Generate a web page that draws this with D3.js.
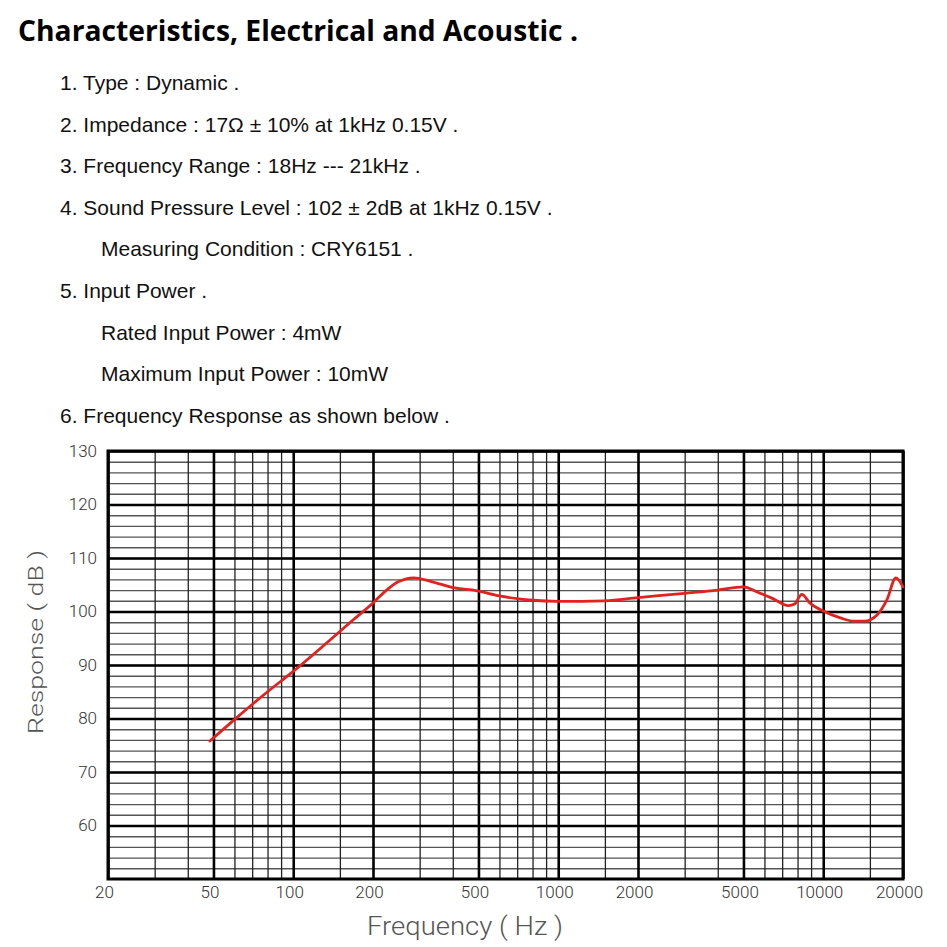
<!DOCTYPE html>
<html>
<head>
<meta charset="utf-8">
<script src="https://cdn.jsdelivr.net/npm/d3@7"></script>
<style>
	html, body { margin: 0; padding: 0; background: #fff; }
	svg { display: block; }
</style>
</head>
<body>
<div id="chart"></div>
<script>
// ---- data ----
var titleText = 'Characteristics, Electrical and Acoustic .';

var specLines = [
	'1. Type : Dynamic .',
	'2. Impedance : 17\u03A9 \u00B1 10% at 1kHz 0.15V .',
	'3. Frequency Range : 18Hz --- 21kHz .',
	'4. Sound Pressure Level : 102 \u00B1 2dB at 1kHz 0.15V .',
	'Measuring Condition : CRY6151 .',
	'5. Input Power .',
	'Rated Input Power : 4mW',
	'Maximum Input Power : 10mW',
	'6. Frequency Response as shown below .'
];
var specLevel = [0, 0, 0, 0, 1, 0, 1, 1, 0]; // 1 = sub item

var freqLabels = [20, 50, 100, 200, 500, 1000, 2000, 5000, 10000, 20000];
var freqMinor = [30, 40, 60, 70, 80, 90, 150, 300, 400, 600, 700, 800, 900, 1500,
	3000, 4000, 6000, 7000, 8000, 9000, 15000];
var dbLabels = [60, 70, 80, 90, 100, 110, 120, 130];

var responseFreq = [48.5, 60, 80, 100, 130, 168, 200, 225, 250, 285, 332, 406, 490, 600, 700, 800,
	1000, 1500, 2000, 3000, 4000, 5000, 5600, 6400, 7400, 7800, 8300, 8900, 10000, 11600,
	13000, 14300, 16000, 17400, 18800, 20000];
var responseDb = [75.8, 79.8, 85.0, 88.8, 93.6, 98.4, 101.6, 104.0, 105.6, 106.3, 105.6, 104.4, 103.9, 102.9, 102.4, 102.1,
	101.9, 102.0, 102.6, 103.4, 104.0, 104.6, 103.7, 102.5, 101.1, 101.4, 103.2, 101.6, 100.1, 98.8,
	98.2, 98.2, 99.4, 102.2, 106.3, 104.6];

function Chart() {
	var attrs = {
		svgWidth: 947,
		svgHeight: 947,
		plotLeft: 108,
		plotRight: 903,
		plotTop: 451,
		plotBottom: 879,
		textFont: '"Liberation Sans", Arial, sans-serif',
		titleFont: '"Open Sans", "Noto Sans", sans-serif',
		axisFont: 'Roboto, "DejaVu Sans", sans-serif',
		curveColor: '#e3211f',
		container: '#chart'
	};

	var main = function () {
		var container = d3.select(attrs.container);

		var svg = container.append('svg')
			.attr('width', attrs.svgWidth)
			.attr('height', attrs.svgHeight)
			.style('background', '#fff');

		// Header
		svg.append('text')
			.attr('x', 18)
			.attr('y', 41)
			.attr('font-family', attrs.titleFont)
			.attr('font-weight', 700)
			.attr('font-size', 28)
			.attr('textLength', 560)
			.attr('lengthAdjust', 'spacingAndGlyphs')
			.attr('fill', '#000')
			.text(titleText);

		svg.append('g')
			.selectAll('text')
			.data(specLines)
			.join('text')
			.attr('x', (d, i) => specLevel[i] ? 101 : 60)
			.attr('y', (d, i) => 90 + i * 41.6)
			.attr('font-family', attrs.textFont)
			.attr('font-size', 21)
			.attr('fill', '#111')
			.text(d => d);

		// Scales
		var x = d3.scaleLog()
			.domain([20, 20000])
			.range([attrs.plotLeft, attrs.plotRight]);

		var y = d3.scaleLinear()
			.domain([50, 130])
			.range([attrs.plotBottom, attrs.plotTop]);

		var w = attrs.plotRight - attrs.plotLeft;
		var h = attrs.plotBottom - attrs.plotTop;

		var grid = svg.append('g');

		// minor horizontal lines every 2 dB
		grid.append('g')
			.attr('transform', 'translate(' + attrs.plotLeft + ',0)')
			.call(d3.axisLeft(y).tickValues(d3.range(52, 130, 2)).tickSize(-w).tickFormat(''))
			.call(g => g.select('.domain').remove())
			.call(g => g.selectAll('line').attr('stroke', '#555').attr('stroke-width', 1.4));

		// minor vertical lines
		grid.append('g')
			.attr('transform', 'translate(0,' + attrs.plotBottom + ')')
			.call(d3.axisBottom(x).tickValues(freqMinor).tickSize(-h).tickFormat(''))
			.call(g => g.select('.domain').remove())
			.call(g => g.selectAll('line').attr('stroke', '#222').attr('stroke-width', 1.3));

		// major lines
		grid.append('g')
			.attr('transform', 'translate(' + attrs.plotLeft + ',0)')
			.call(d3.axisLeft(y).tickValues(dbLabels).tickSize(-w).tickFormat(''))
			.call(g => g.select('.domain').remove())
			.call(g => g.selectAll('line').attr('stroke', '#000').attr('stroke-width', 2.6));

		grid.append('g')
			.attr('transform', 'translate(0,' + attrs.plotBottom + ')')
			.call(d3.axisBottom(x).tickValues(freqLabels).tickSize(-h).tickFormat(''))
			.call(g => g.select('.domain').remove())
			.call(g => g.selectAll('line').attr('stroke', '#000').attr('stroke-width', 2.6));

		// frame
		svg.append('rect')
			.attr('x', attrs.plotLeft)
			.attr('y', attrs.plotTop)
			.attr('width', w)
			.attr('height', h)
			.attr('fill', 'none')
			.attr('stroke', '#000')
			.attr('stroke-width', 3);

		// Tick labels
		svg.append('g')
			.attr('transform', 'translate(' + attrs.plotLeft + ',0)')
			.call(d3.axisLeft(y).tickValues(dbLabels).tickSize(0).tickPadding(11))
			.call(g => g.select('.domain').remove())
			.call(g => g.selectAll('text')
				.attr('font-family', attrs.axisFont)
				.attr('font-weight', 300)
				.attr('font-size', 17)
				.attr('fill', '#333'));

		svg.append('g')
			.attr('transform', 'translate(0,' + attrs.plotBottom + ')')
			.call(d3.axisBottom(x).tickValues(freqLabels).tickSize(0).tickPadding(7).tickFormat(d3.format('d')))
			.call(g => g.select('.domain').remove())
			.call(g => g.selectAll('text')
				.attr('dx', -4)
				.attr('font-family', attrs.axisFont)
				.attr('font-weight', 300)
				.attr('font-size', 17)
				.attr('fill', '#333'));

		// Axis titles
		svg.append('text')
			.attr('transform', 'translate(43,642) rotate(-90)')
			.attr('text-anchor', 'middle')
			.attr('font-family', attrs.axisFont)
			.attr('font-weight', 300)
			.attr('font-size', 21)
			.attr('textLength', 184)
			.attr('lengthAdjust', 'spacingAndGlyphs')
			.attr('fill', '#555')
			.text('Response ( dB )');

		svg.append('text')
			.attr('x', 465)
			.attr('y', 935)
			.attr('text-anchor', 'middle')
			.attr('font-family', attrs.axisFont)
			.attr('font-weight', 300)
			.attr('font-size', 26)
			.attr('textLength', 196)
			.attr('lengthAdjust', 'spacingAndGlyphs')
			.attr('fill', '#555')
			.text('Frequency ( Hz )');

		// Response curve
		var line = d3.line()
			.x(d => x(d[0]))
			.y(d => y(d[1]))
			.curve(d3.curveMonotoneX);

		svg.append('path')
			.datum(d3.zip(responseFreq, responseDb))
			.attr('d', line)
			.attr('fill', 'none')
			.attr('stroke', attrs.curveColor)
			.attr('stroke-width', 2.8)
			.attr('stroke-linejoin', 'round')
			.attr('stroke-linecap', 'round');
	};

	main.render = function () {
		main();
		return main;
	};

	return main;
}

Chart().render();
</script>
</body>
</html>
